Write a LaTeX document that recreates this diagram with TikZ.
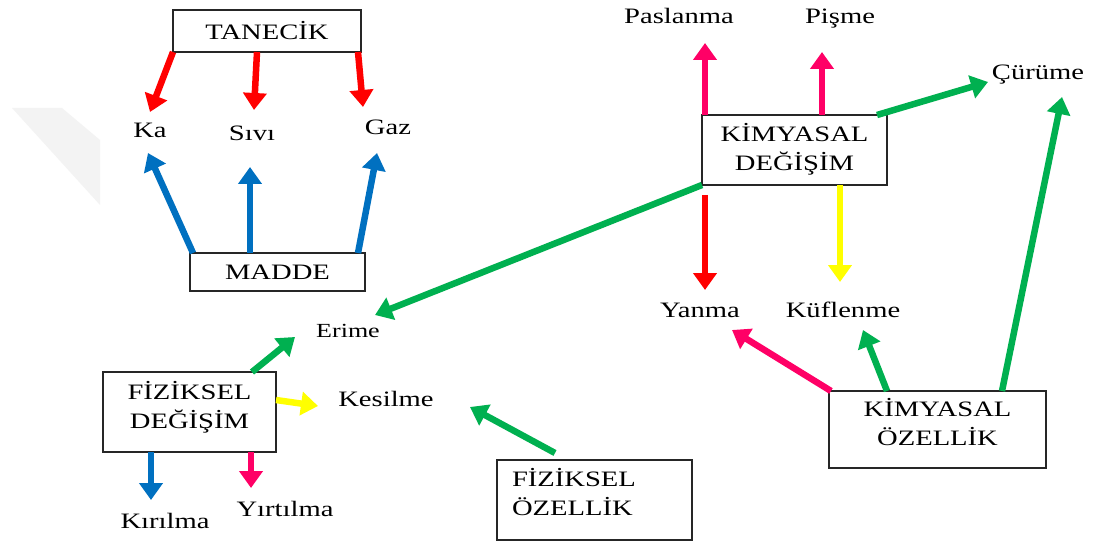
\documentclass[tikz,border=0pt]{standalone}
\usepackage{fontspec}
\setmainfont{Liberation Serif}[FakeStretch=1.3]
\usetikzlibrary{arrows.meta,calc}
\definecolor{cred}{HTML}{FF0000}
\definecolor{cblue}{HTML}{0070C0}
\definecolor{cpink}{HTML}{FF0066}
\definecolor{cgreen}{HTML}{00B050}
\definecolor{cyellow}{HTML}{FFFF00}
\definecolor{wmark}{HTML}{F3F3F3}
% two-line box text, lifted by #2 without changing its size
\newcommand{\twolines}[4][c]{\raisebox{#2}[\height][\depth]{\begin{tabular}{@{}#1@{}}#3\\#4\end{tabular}}}
\begin{document}
\begin{tikzpicture}[x=1pt,y=-1pt,
  every node/.style={font=\fontsize{22}{29}\selectfont, inner sep=0pt, outer sep=0pt},
  box/.style={draw=black!85, line width=1.4pt, align=center, fill=white},
  lbl/.style={anchor=base},
  arr/.style={line width=6.5pt, -{Triangle[width=23pt,length=17pt]}},
]
\useasboundingbox (0,0) rectangle (1094,545);
\fill[white] (0,0) rectangle (1094,545);
% faint background band on the left
\fill[wmark] (12,108) -- (62,108) -- (100,140) -- (100,205) -- cycle;

% boxes
\node[box, minimum width=188, minimum height=42] (tan)   at (267,31)    {TANECİK};
\node[box, minimum width=175, minimum height=38] (madde) at (277.5,272) {MADDE};
\node[box, minimum width=185, minimum height=70] (kd)    at (794.5,150) {\twolines{0pt}{KİMYASAL}{DEĞİŞİM}};
\node[box, minimum width=173, minimum height=80] (fd)    at (189.5,412) {\twolines{4pt}{FİZİKSEL}{DEĞİŞİM}};
\node[box, minimum width=195, minimum height=80, text width=165, align=left] (fo) at (594.5,500) {\twolines[l]{5pt}{FİZİKSEL}{ÖZELLİK}};
\node[box, minimum width=217, minimum height=77] (ko)    at (937.5,429.5) {\twolines{4pt}{KİMYASAL}{ÖZELLİK}};

% labels
\node[lbl] (ka)  at (150,138)  {Ka};
\node[lbl] (siv) at (252,141)  {Sıvı};
\node[lbl] (gaz) at (388,135)  {Gaz};
\node[lbl] (pas) at (679,24)   {Paslanma};
\node[lbl] (pis) at (840,24)   {Pişme};
\node[lbl] (cur) at (1038,80)  {Çürüme};
\node[lbl] (yan) at (700,317)  {Yanma};
\node[lbl] (kuf) at (843,317)  {Küflenme};
\node[lbl, font=\fontsize{20}{25}\selectfont] (eri) at (348,337) {Erime};
\node[lbl] (kes) at (386,406)  {Kesilme};
\node[lbl] (kir) at (165,528)  {Kırılma};
\node[lbl] (yir) at (285,516)  {Yırtılma};

% TANECİK -> states
\draw[arr, cred] (tan.south west) -- ($(ka.base)+(0,-26)$);
\draw[arr, cred] ($(tan.south)+(-10,0)$) -- ($(siv.base)+(2,-31)$);
\draw[arr, cred] ($(tan.south east)+(-3,0)$) -- ($(gaz.base)+(-25,-28)$);
% MADDE -> states
\draw[arr, cblue] ($(madde.north west)+(3,0)$) -- ($(ka.base)+(-2,15)$);
\draw[arr, cblue] ($(madde.north)+(-27.5,0)$) -- ($(siv.base)+(-2,26)$);
\draw[arr, cblue] ($(madde.north east)+(-7,0)$) -- ($(gaz.base)+(-11,18)$);

% KİMYASAL DEĞİŞİM
\draw[arr, cpink] ($(kd.north west)+(3,0)$) -- ($(pas.base)+(26,19)$);
\draw[arr, cpink] ($(kd.north)+(27.5,0)$) -- ($(pis.base)+(-18,28)$);
\draw[arr, cgreen] ($(kd.north east)+(-10,0)$) -- ($(cur.base)+(-50,2)$);
\draw[arr, cgreen] (kd.south west) -- ($(eri.base)+(27,-22)$);
\draw[arr, cred] ($(kd.south west)+(3,10)$) -- ($(yan.base)+(5,-27)$);
\draw[arr, cyellow] ($(kd.south)+(45.5,0)$) -- ($(kuf.base)+(-3,-35)$);

% FİZİKSEL DEĞİŞİM
\draw[arr, cgreen] ($(fd.north)+(62.5,0)$) -- ($(eri.base)+(-53,0)$);
\draw[arr, cyellow] ($(fd.east)+(0,-12)$) -- ($(kes.base)+(-68,0)$);
\draw[arr, cblue] ($(fd.south)+(-38.5,0)$) -- ($(kir.base)+(-14,-28)$);
\draw[arr, cpink] ($(fd.south)+(61.5,0)$) -- ($(yir.base)+(-34,-28)$);

% FİZİKSEL ÖZELLİK
\draw[arr, cgreen] ($(fo.north west)+(58,-7)$) -- ($(kes.base)+(84,1)$);

% KİMYASAL ÖZELLİK
\draw[arr, cpink] ($(ko.north west)+(2,0)$) -- ($(yan.base)+(32,13)$);
\draw[arr, cgreen] ($(ko.north west)+(58,0)$) -- ($(kuf.base)+(20,13)$);
\draw[arr, cgreen] ($(ko.north west)+(173,0)$) -- ($(cur.base)+(24,17)$);
\end{tikzpicture}
\end{document}
